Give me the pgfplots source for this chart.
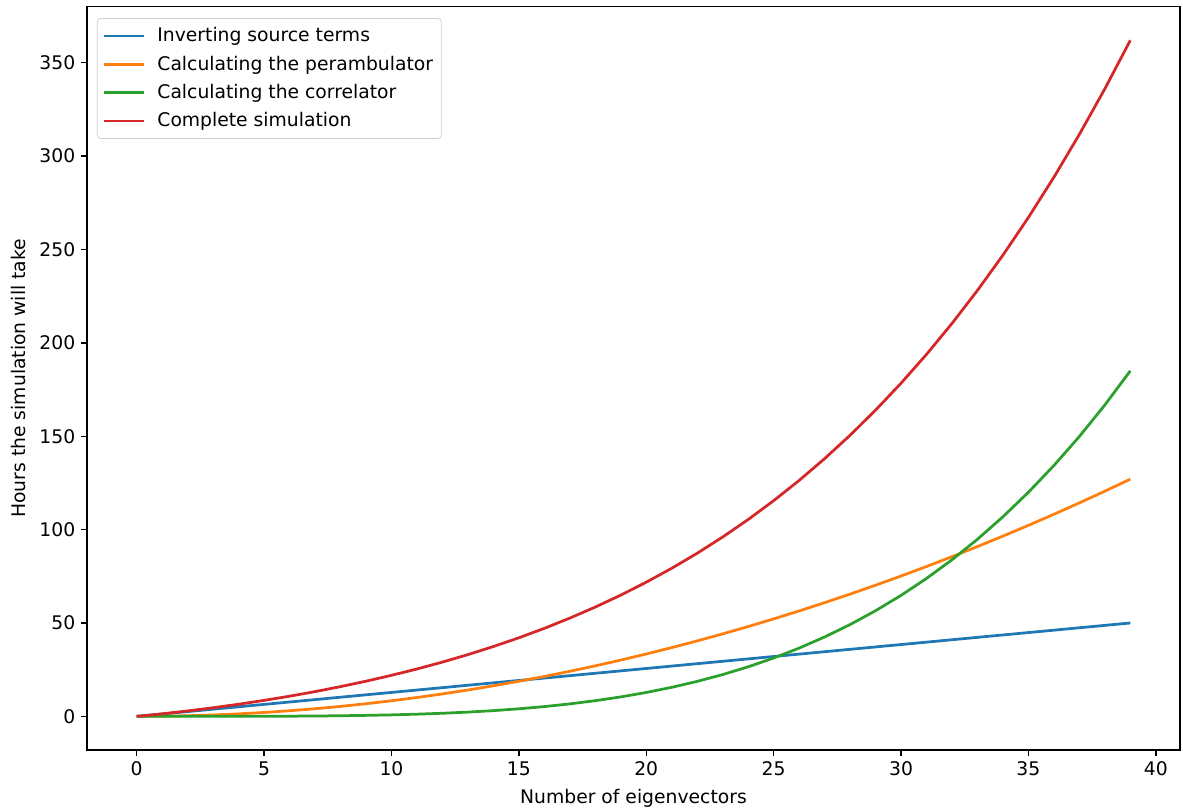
\documentclass[border=0pt]{standalone}
\usepackage{fontspec}
\setmainfont{DejaVu Sans}
\usepackage{pgfplots}
\usepackage{pgfplotstable}
\pgfplotsset{compat=1.18}
\definecolor{c1}{HTML}{1F77B4}
\definecolor{c2}{HTML}{FF7F0E}
\definecolor{c3}{HTML}{2CA02C}
\definecolor{c4}{HTML}{D62728}
\pgfplotstableread{
x b o g r
0 0 0 0 0
1 1.28 0.08 0.00 1.36
2 2.56 0.33 0.00 2.90
3 3.85 0.75 0.01 4.61
4 5.13 1.34 0.02 6.49
5 6.41 2.09 0.05 8.55
6 7.69 3.01 0.10 10.80
7 8.97 4.09 0.19 13.25
8 10.26 5.34 0.33 15.93
9 11.54 6.76 0.53 18.83
10 12.82 8.35 0.80 21.97
11 14.10 10.10 1.17 25.37
12 15.38 12.02 1.66 29.06
13 16.67 14.11 2.28 33.06
14 17.95 16.37 3.07 37.39
15 19.23 18.79 4.05 42.07
16 20.51 21.38 5.24 47.13
17 21.79 24.13 6.68 52.60
18 23.08 27.05 8.40 58.53
19 24.36 30.14 10.42 64.92
20 25.64 33.40 12.80 71.84
21 26.92 36.82 15.55 79.29
22 28.21 40.41 18.73 87.35
23 29.49 44.17 22.38 96.04
24 30.77 48.09 26.53 105.39
25 32.05 52.19 31.24 115.48
26 33.33 56.44 36.54 126.31
27 34.62 60.87 42.50 137.99
28 35.90 65.46 49.15 150.51
29 37.18 70.22 56.56 163.96
30 38.46 75.15 64.77 178.38
31 39.74 80.24 73.85 193.83
32 41.03 85.50 83.85 210.38
33 42.31 90.93 94.84 228.08
34 43.59 96.52 106.86 246.97
35 44.87 102.28 120.00 267.15
36 46.15 108.21 134.31 288.67
37 47.44 114.31 149.87 311.62
38 48.72 120.57 166.74 336.03
39 50.00 127.00 185.00 362.00
}\datatable
\begin{document}
\begin{tikzpicture}
\begin{axis}[
  scale only axis,
  width=655.8pt, height=446.2pt,
  xmin=-1.95, xmax=40.95,
  ymin=-18.1, ymax=380.1,
  xtick={0,5,...,40},
  ytick={0,50,...,350},
  tick align=outside,
  major tick length=3.5pt,
  tick style={black, line width=0.85pt},
  axis line style={line width=0.85pt},
  xtick pos=bottom, ytick pos=left,
  /pgf/number format/assume math mode=true,
  ticklabel style={font=\fontsize{11.25}{13.5}\selectfont},
  label style={font=\fontsize{11.25}{13.5}\selectfont},
  xlabel={Number of eigenvectors},
  ylabel={Hours the simulation will take},
  xlabel style={at={(axis description cs:0.5,-0.0645)}, anchor=center},
  ylabel style={at={(axis description cs:-0.0631,0.5)}, anchor=center, rotate=0},
  legend cell align=left,
  legend style={at={(axis description cs:0,1)}, anchor=north west, xshift=6pt, yshift=-7pt,
    draw=black!20, fill=white, fill opacity=0.8, text opacity=1, rounded corners=2pt,
    font=\fontsize{11.25}{13.5}\selectfont, row sep=2.95pt, inner xsep=3pt, inner ysep=3.5pt},
  legend image code/.code={\draw[#1] (0pt,0pt) -- (24pt,0pt); \path (29.4pt,0pt);},
  every axis plot/.append style={line width=1.65pt},
]
\addplot[c1, no markers] table[x=x, y=b] {\datatable};
\addlegendentry{Inverting source terms}
\addplot[c2, no markers] table[x=x, y=o] {\datatable};
\addlegendentry{Calculating the perambulator}
\addplot[c3, no markers] table[x=x, y=g] {\datatable};
\addlegendentry{Calculating the correlator}
\addplot[c4, no markers] table[x=x, y=r] {\datatable};
\addlegendentry{Complete simulation}
\coordinate (sw) at (rel axis cs:0,0);
\coordinate (ne) at (rel axis cs:1,1);
\end{axis}
\pgfresetboundingbox
\path ([shift={(-52.2pt,-35.4pt)}]sw) rectangle ([shift={(1.8pt,3.9pt)}]ne);
\end{tikzpicture}
\end{document}
